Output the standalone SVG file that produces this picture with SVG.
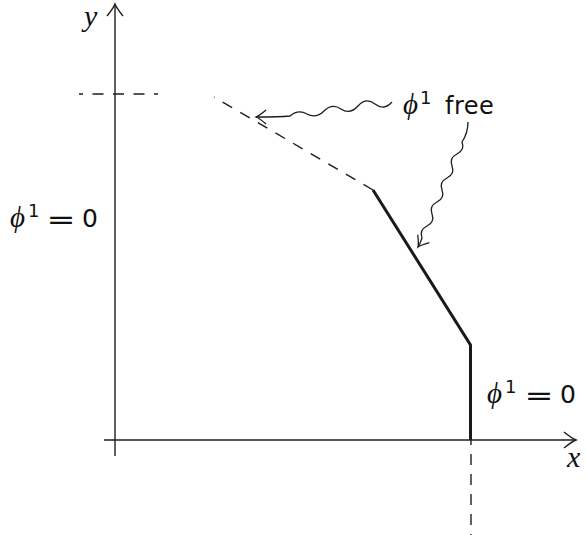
<svg xmlns="http://www.w3.org/2000/svg" width="586" height="535" viewBox="0 0 586 535">
<style>
.ax{stroke:#1e1e1e;stroke-width:1.4;fill:none}
.dash{stroke:#1e1e1e;stroke-width:1.4;fill:none}
.thick{stroke:#1a1a1a;stroke-width:3;fill:none;stroke-linejoin:miter}
.wave{stroke:#1e1e1e;stroke-width:1.3;fill:none}
.m{font-family:"Liberation Serif","DejaVu Serif",serif;font-style:italic;fill:#111}
.s{font-family:"DejaVu Sans","Liberation Sans",sans-serif;fill:#111}
</style>
<defs>
<marker id="big" markerUnits="userSpaceOnUse" markerWidth="30" markerHeight="30" refX="0" refY="0" viewBox="-15 -15 30 30" orient="auto" overflow="visible">
<path d="M-12,-8 Q-4,-1.5 0,0 Q-4,1.5 -12,8" fill="none" stroke="#1e1e1e" stroke-width="1.4"/>
</marker>
<marker id="small" markerUnits="userSpaceOnUse" markerWidth="30" markerHeight="30" refX="0" refY="0" viewBox="-15 -15 30 30" orient="auto" overflow="visible">
<path d="M-10,-7 Q-3,-1 0,0 Q-3,1 -10,7" fill="none" stroke="#1e1e1e" stroke-width="1.3"/>
</marker>
</defs>
<rect width="586" height="535" fill="#fff"/>
<g id="connectors">
<line class="ax" x1="115" y1="456" x2="115" y2="4" marker-end="url(#big)"/>
<line class="ax" x1="104" y1="440" x2="576" y2="440" marker-end="url(#big)"/>
<line class="dash" x1="79" y1="94" x2="158" y2="94" stroke-dasharray="11 9.5" stroke-dashoffset="7"/>
<line class="dash" x1="471" y1="440" x2="471" y2="535" stroke-dasharray="11 9" stroke-dashoffset="6"/>
<line class="dash" x1="373" y1="190" x2="214" y2="97" stroke-dasharray="11 9.4"/>
<path class="thick" d="M373,190 L470.5,345 L470.5,440"/>
<path class="wave" d="M392,102 q-8,9 -17,2 t-17,2 t-17,3 t-17,2 t-17,3 t-17,2 c-10,1 -22,1 -34,1" marker-end="url(#small)"/>
<path class="wave" d="M468,122 c0,8 -2,14 -6,20 q3,8 -5,12 t-5,12 t-5,12 t-5,12 t-5,12 t-5,12 t-5,12 t-5,12 c-1,3 -2,6 -4,9" marker-end="url(#small)"/>
</g>
<g id="label-y"><text class="m" x="84" y="26" font-size="30">y</text></g>
<g id="label-x"><text class="m" x="567" y="467" font-size="30">x</text></g>
<g id="label-free">
<text class="m" x="403" y="114" font-size="29">ϕ</text>
<text class="s" x="420" y="104" font-size="18">1</text>
<text class="s" x="445" y="114" font-size="24" letter-spacing="0.5">free</text>
</g>
<g id="label-left">
<text class="m" x="10" y="227" font-size="29">ϕ</text>
<text class="s" x="28" y="217" font-size="18">1</text>
<text class="s" x="46.5" y="229" font-size="27" textLength="29" lengthAdjust="spacingAndGlyphs">=</text>
<text class="s" x="82" y="227" font-size="25">0</text>
</g>
<g id="label-right">
<text class="m" x="487" y="403" font-size="29">ϕ</text>
<text class="s" x="505" y="393" font-size="18">1</text>
<text class="s" x="524.5" y="405" font-size="27" textLength="29" lengthAdjust="spacingAndGlyphs">=</text>
<text class="s" x="560" y="403" font-size="25">0</text>
</g>
</svg>
